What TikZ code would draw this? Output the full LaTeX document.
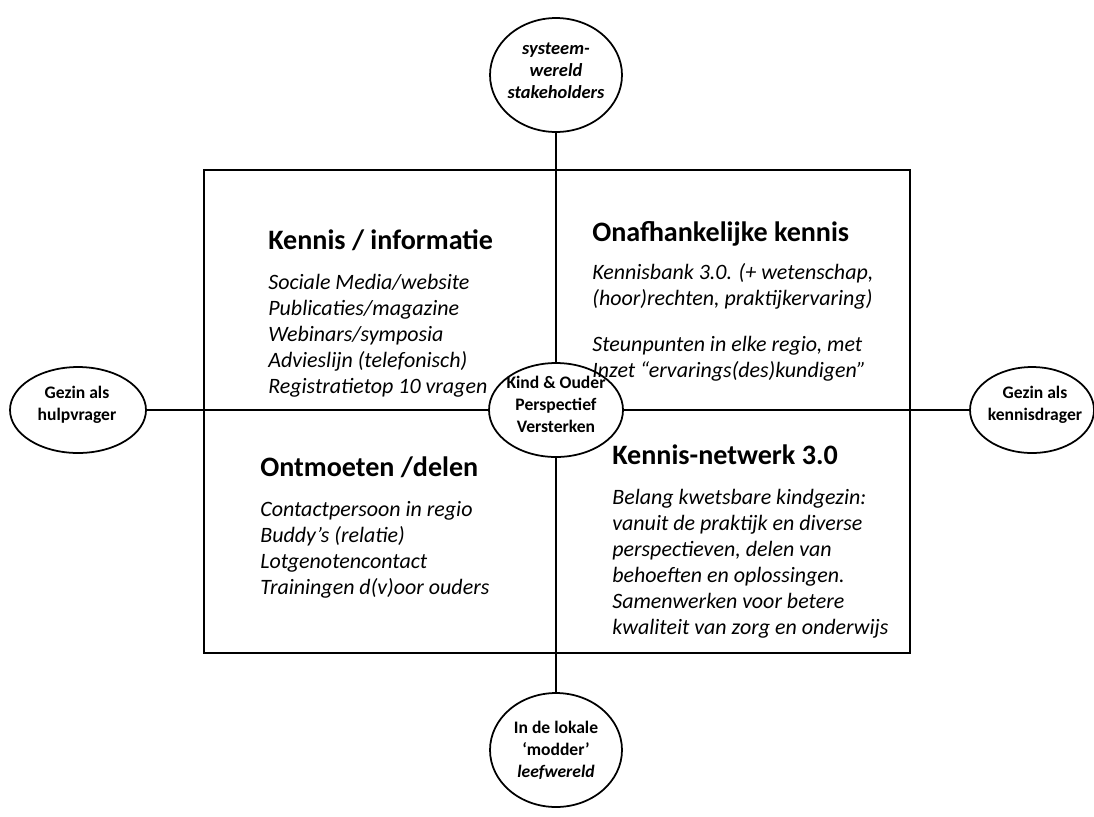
\documentclass[tikz,border=0pt]{standalone}
\usepackage{fontspec}
\setmainfont{Carlito}
\usetikzlibrary{shapes.geometric}

\begin{document}
\begin{tikzpicture}[x=0.02cm,y=-0.02cm,line cap=round]
  \tikzset{
    as/.style={line width=1pt},
    pool/.style={draw,ellipse,line width=1pt,inner sep=0pt},
    pooltekst/.style={align=center,inner sep=0pt,font=\fontsize{10}{12.5}\selectfont\bfseries},
    kop/.style={anchor=base west,inner sep=0pt,font=\fontsize{16}{19}\selectfont\bfseries},
    lijst/.style={anchor=base west,inner sep=0pt,align=left,font=\fontsize{12.5}{14.7}\selectfont\itshape}
  }
  \useasboundingbox (0,0) rectangle (1094,816);

  % kwadranten-kader
  \draw[as] (204,170) rectangle (910,653);

  % polen en kern
  \node[pool,minimum width=2.64cm,minimum height=2.28cm] (systeem) at (556,75) {};
  \node[pool,minimum width=2.64cm,minimum height=2.28cm] (lokaal) at (556,750) {};
  \node[pool,minimum width=2.72cm,minimum height=1.72cm] (hulp) at (78,410) {};
  \node[pool,minimum width=2.48cm,minimum height=1.72cm] (drager) at (1032,410) {};
  \node[pool,minimum width=2.68cm,minimum height=1.88cm] (kern) at (556,410) {};

  \node[pooltekst,font=\fontsize{10.5}{12.5}\selectfont\bfseries\itshape] (systeem-t) at (556,71) {systeem-\\wereld\\stakeholders};
  \node[pooltekst] (lokaal-t) at (556,750) {In de lokale\\‘modder’\\\itshape leefwereld};
  \node[pooltekst] (hulp-t) at (77,405) {Gezin als\\hulpvrager};
  \node[pooltekst] (drager-t) at (1035,405) {Gezin als\\kennisdrager};
  \node[pooltekst] (kern-t) at (556,404) {Kind \& Ouder\\Perspectief\\Versterken};

  % assen
  \draw[as] (systeem) -- (kern);
  \draw[as] (kern) -- (lokaal);
  \draw[as] (hulp) -- (kern);
  \draw[as] (kern) -- (drager);

  % linksboven (anker op basislijn van de laatste regel)
  \node[kop] (kennis) at (268,249) {Kennis / informatie};
  \node[lijst] (kennis-l) at (268,393) {Sociale Media/website\\Publicaties/magazine\\Webinars/symposia\\Advieslijn (telefonisch)\\Registratietop 10 vragen};

  % rechtsboven
  \node[kop] (onafh) at (592,241) {Onafhankelijke kennis};
  \node[lijst] (onafh-l) at (592,305) {Kennisbank 3.0. (+ wetenschap,\\(hoor)rechten, praktijkervaring)};
  \node[lijst] (steun) at (592,377) {Steunpunten in elke regio, met\\Inzet “ervarings(des)kundigen”};

  % linksonder
  \node[kop] (ontmoet) at (260,476) {Ontmoeten /delen};
  \node[lijst] (ontmoet-l) at (260,594) {Contactpersoon in regio\\Buddy’s (relatie)\\Lotgenotencontact\\Trainingen d(v)oor ouders};

  % rechtsonder
  \node[kop] (netwerk) at (612,464) {Kennis-netwerk 3.0};
  \node[lijst] (netwerk-l) at (612,634) {Belang kwetsbare kindgezin:\\vanuit de praktijk en diverse\\perspectieven, delen van\\behoeften en oplossingen.\\Samenwerken voor betere\\kwaliteit van zorg en onderwijs};
\end{tikzpicture}
\end{document}
